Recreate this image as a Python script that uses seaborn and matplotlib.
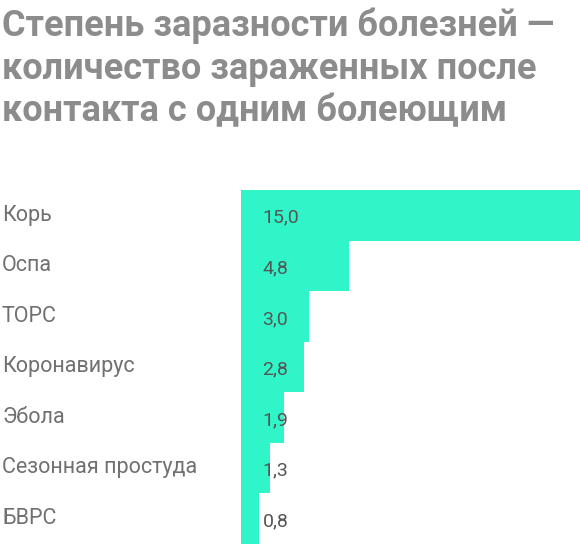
import matplotlib
matplotlib.use("Agg")
import matplotlib.pyplot as plt
import seaborn as sns
import pandas as pd

diseases = ["Корь", "Оспа", "ТОРС", "Коронавирус", "Эбола", "Сезонная простуда", "БВРС"]
values = [15.0, 4.8, 3.0, 2.8, 1.9, 1.3, 0.8]
labels = ["15,0", "4,8", "3,0", "2,8", "1,9", "1,3", "0,8"]

sns.set_theme(style="white")
plt.rcParams['font.family'] = ['Roboto', 'DejaVu Sans']

df = pd.DataFrame({"d": diseases, "v": values})
fig = plt.figure(figsize=(5.8, 5.44), dpi=100)
ax = fig.add_axes([241/580, 0, 1 - 241/580, 1 - 190/544])
sns.barplot(data=df, x="v", y="d", orient="h", color="#2ff5c8", width=1.0,
            saturation=1, ax=ax, linewidth=0)
ax.set_xlim(0, 15)
ax.set_ylim(6.5, -0.5)
ax.set_xlabel(""); ax.set_ylabel("")
ax.set_xticks([]); ax.set_yticks([])
for s in ax.spines.values():
    s.set_visible(False)
for i, (d, lab) in enumerate(zip(diseases, labels)):
    ax.text(0.95, i + 0.05, lab, va="center", ha="left", fontsize=14, color="#555555")
    fig.text(2/580, 1 - (190 + 50.6 * i + 25) / 544, d, va="center", ha="left",
             fontsize=15.5, color="#707070")
fig.text(2/580, 1 - 8/544,
         "Степень заразности болезней —\nколичество зараженных после\nконтакта с одним болеющим",
         va="top", ha="left", fontsize=26, fontweight="bold", color="#8c8c8c",
         linespacing=1.22)
fig.savefig("out.png", dpi=100)
